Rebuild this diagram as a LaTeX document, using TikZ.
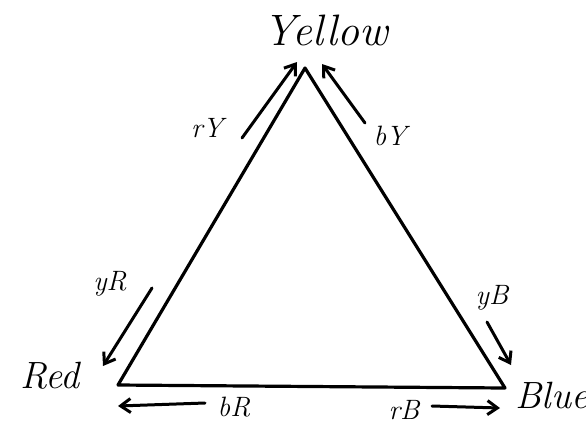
\documentclass[tikz,border=0pt]{standalone}
\usepackage{fontspec}
\usetikzlibrary{arrows.meta}
\begin{document}
\begin{tikzpicture}[x=1pt,y=-1pt,
  edge/.style={line width=3.2pt,line join=round,line cap=round},
  flow/.style={line width=3pt,line cap=round,-{Straight Barb[length=10pt,width=14pt,line width=3pt]}},
  vlabel/.style={font=\itshape\fontsize{44}{46}\selectfont},
  rblabel/.style={font=\itshape\fontsize{38}{40}\selectfont},
  flabel/.style={font=\itshape\fontsize{28}{30}\selectfont}]
\useasboundingbox (0,0) rectangle (586,440);
\clip (0,0) rectangle (586,440);
\fill[white] (0,0) rectangle (586,440);
% vertices
\coordinate (Y) at (305,68);
\coordinate (R) at (118,385);
\coordinate (B) at (505,388);
\draw[edge] (R) -- (Y) -- (B) -- (R);
% vertex labels
\node[vlabel] (yl) at (326,30) {Yellow};
\node[rblabel] (rl) at (50,376) {Red};
\node[rblabel,anchor=west] (bl) at (512,395) {Blue};
% arrows
\coordinate (a1s) at (242,138); \coordinate (a1e) at (297,62);
\coordinate (a2s) at (365,123); \coordinate (a2e) at (322,64);
\coordinate (a3s) at (152,288); \coordinate (a3e) at (103,366);
\coordinate (a4s) at (487,322); \coordinate (a4e) at (511,365);
\coordinate (a5s) at (205,403); \coordinate (a5e) at (118,406);
\coordinate (a6s) at (432,406); \coordinate (a6e) at (500,408);
\draw[flow] (a1s) -- (a1e);
\draw[flow] (a2s) -- (a2e);
\draw[flow] (a3s) -- (a3e);
\draw[flow] (a4s) -- (a4e);
\draw[flow] (a5s) -- (a5e);
\draw[flow] (a6s) -- (a6e);
% flow labels
\node[flabel] (l1) at (207,128) {rY};
\node[flabel] (l2) at (390,136) {bY};
\node[flabel] (l3) at (110,284) {yR};
\node[flabel] (l4) at (492,298) {yB};
\node[flabel] (l5) at (234,407) {bR};
\node[flabel] (l6) at (404,410) {rB};
\end{tikzpicture}
\end{document}
